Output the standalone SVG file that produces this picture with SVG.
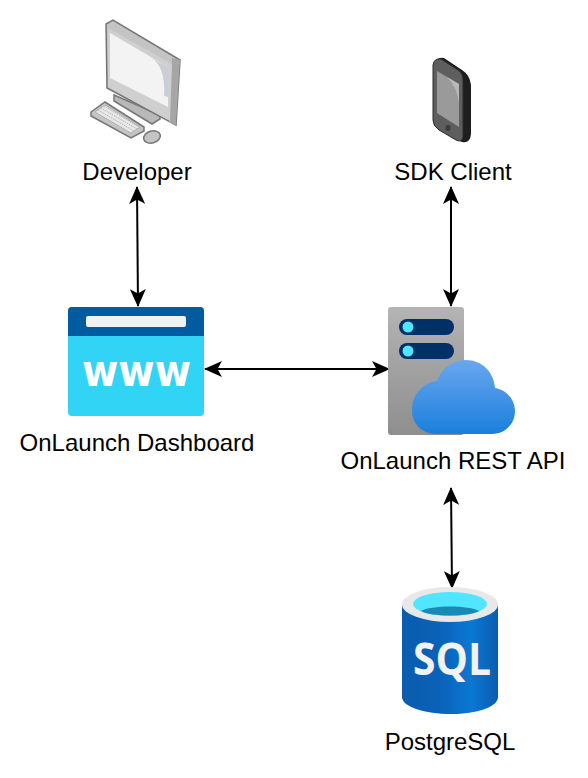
<svg xmlns="http://www.w3.org/2000/svg" width="588" height="778" viewBox="0 0 588 778">
<style>
.l{font-family:"Liberation Sans",Arial,sans-serif;font-size:24px;fill:#000;text-anchor:middle}
.c{stroke:#000;stroke-width:2;fill:none;marker-start:url(#a);marker-end:url(#a)}
</style>
<defs>
<marker id="a" viewBox="0 0 18 16" refX="17" refY="8" markerWidth="18" markerHeight="16" markerUnits="userSpaceOnUse" orient="auto-start-reverse"><path d="M0 0L18 8L0 16L4.5 8Z" fill="#000"/></marker>
<linearGradient id="srv" x1="0" y1="0" x2="0" y2="1"><stop offset="0" stop-color="#b4b4b4"/><stop offset="1" stop-color="#8e8e8e"/></linearGradient>
<linearGradient id="cl" x1="0" y1="0" x2="0" y2="1"><stop offset="0" stop-color="#6aa7ee"/><stop offset="1" stop-color="#1b7fdc"/></linearGradient>
<linearGradient id="db" x1="0" y1="0" x2="1" y2="0"><stop offset="0" stop-color="#0a5cae"/><stop offset=".4" stop-color="#0a62b8"/><stop offset=".72" stop-color="#0a78d4"/><stop offset="1" stop-color="#0a5cae"/></linearGradient>
</defs>
<g id="connectors">
<path class="c" d="M137 187L138 306"/>
<path class="c" d="M451 187V306"/>
<path class="c" d="M205 369H389"/>
<path class="c" d="M451 488L452 588"/>
</g>
<g id="developer">
<path d="M114 95L114 101L152 124L160 119L160 115Z" fill="#b8b8b8" stroke="#787878" stroke-width="1.5"/>
<path d="M106 24L113 20L180 60L176 125L107 88Z" fill="#c4c4c4" stroke="#767676" stroke-width="1.5"/>
<path d="M172 58L180 60L176 125L169 122Z" fill="#a6a6a6"/>
<path d="M108 28L172 64L170 121L108 87Z" fill="#cfcfcf"/>
<path d="M110 33L168 67L168 107L110 78Z" fill="#f3f3f3"/>
<path d="M150 57Q166 66 164 96L168 97V67Z" fill="#c9ced6"/>
<path d="M91 112L105 102L144 127L144 131L131 138L91 116Z" fill="#c4c4c4" stroke="#767676" stroke-width="1.5"/>
<path d="M95 112L105 105L140 127L131 133Z" fill="#e8e8e8" stroke="#a8a8a8" stroke-width=".8"/>
<path d="M98 110L134 131M101 108L137 129M104 106L139 127" fill="none" stroke="#b4b4b4" stroke-width="1" stroke-dasharray="1.5 1"/>
<ellipse cx="152" cy="137" rx="8.5" ry="6" transform="rotate(-15 152 137)" fill="#c4c4c4" stroke="#767676" stroke-width="1.5"/>
<text class="l" x="137" y="180">Developer</text>
</g>
<g id="sdk-client">
<path d="M436 62Q438 57 444 58L462 70Q470 75 471 85V134Q470 144 462 142L450 136L436 120Z" fill="#1e1e1e"/>
<path d="M433 65Q434 58 441 59L458 70Q463 73 463 80V137Q462 143 456 140L439 130Q433 126 433 120Z" fill="#5e5e5e" stroke="#2a2a2a" stroke-width="1"/>
<path d="M437 71L459 84L459 127L437 113Z" fill="#9a9a9a"/>
<path d="M447 77L459 84V104Q458 88 447 77Z" fill="#b8b8b8"/>
<ellipse cx="448" cy="128" rx="2.5" ry="3" fill="#3a3a3a"/>
<text class="l" x="453" y="180">SDK Client</text>
</g>
<g id="dashboard">
<rect x="68" y="307" width="136" height="109" rx="4" fill="#32d4f5"/>
<path d="M68 336V311Q68 307 72 307H200Q204 307 204 311V336Z" fill="#005ba1"/>
<rect x="86" y="316" width="100" height="11" rx="2" fill="#f2f2f2"/>
<text x="136.500" y="386" font-family="DejaVu Sans,sans-serif" font-weight="bold" font-size="45" fill="#fff" text-anchor="middle" textLength="109" lengthAdjust="spacingAndGlyphs">www</text>
<text class="l" x="137" y="451">OnLaunch Dashboard</text>
</g>
<g id="rest-api">
<rect x="388" y="307" width="76" height="128" rx="3" fill="url(#srv)"/>
<rect x="399" y="319" width="55" height="16" rx="8" fill="#003067"/>
<rect x="399" y="343" width="55" height="16" rx="8" fill="#003067"/>
<circle cx="408" cy="327" r="5.500" fill="#50e6ff"/>
<circle cx="408" cy="351" r="5.500" fill="#50e6ff"/>
<path d="M437 434C422 434 412 424 412 410C412 394 424 382 437 381C441 369 452 360 466 360C482 360 494 372 495 388C507 390 515 400 515 411C515 424 505 434 492 434Z" fill="url(#cl)"/>
<text class="l" x="453" y="469">OnLaunch REST API</text>
</g>
<g id="postgresql">
<path d="M402 604V697C402 707 425 714 451 714C477 714 498 707 498 697V604Z" fill="url(#db)"/>
<ellipse cx="450" cy="604.500" rx="48" ry="17.500" fill="#e8e8e8"/>
<ellipse cx="450" cy="604" rx="37" ry="12" fill="#50e6ff"/>
<path d="M421 611C430 605 470 605 479 611C470 617 430 617 421 611Z" fill="#198ab3"/>
<text x="452" y="675" font-family="Open Sans,sans-serif" font-weight="bold" font-size="45" fill="#f2f2f2" text-anchor="middle" textLength="78" lengthAdjust="spacingAndGlyphs">SQL</text>
<text class="l" x="450" y="750">PostgreSQL</text>
</g>
</svg>
